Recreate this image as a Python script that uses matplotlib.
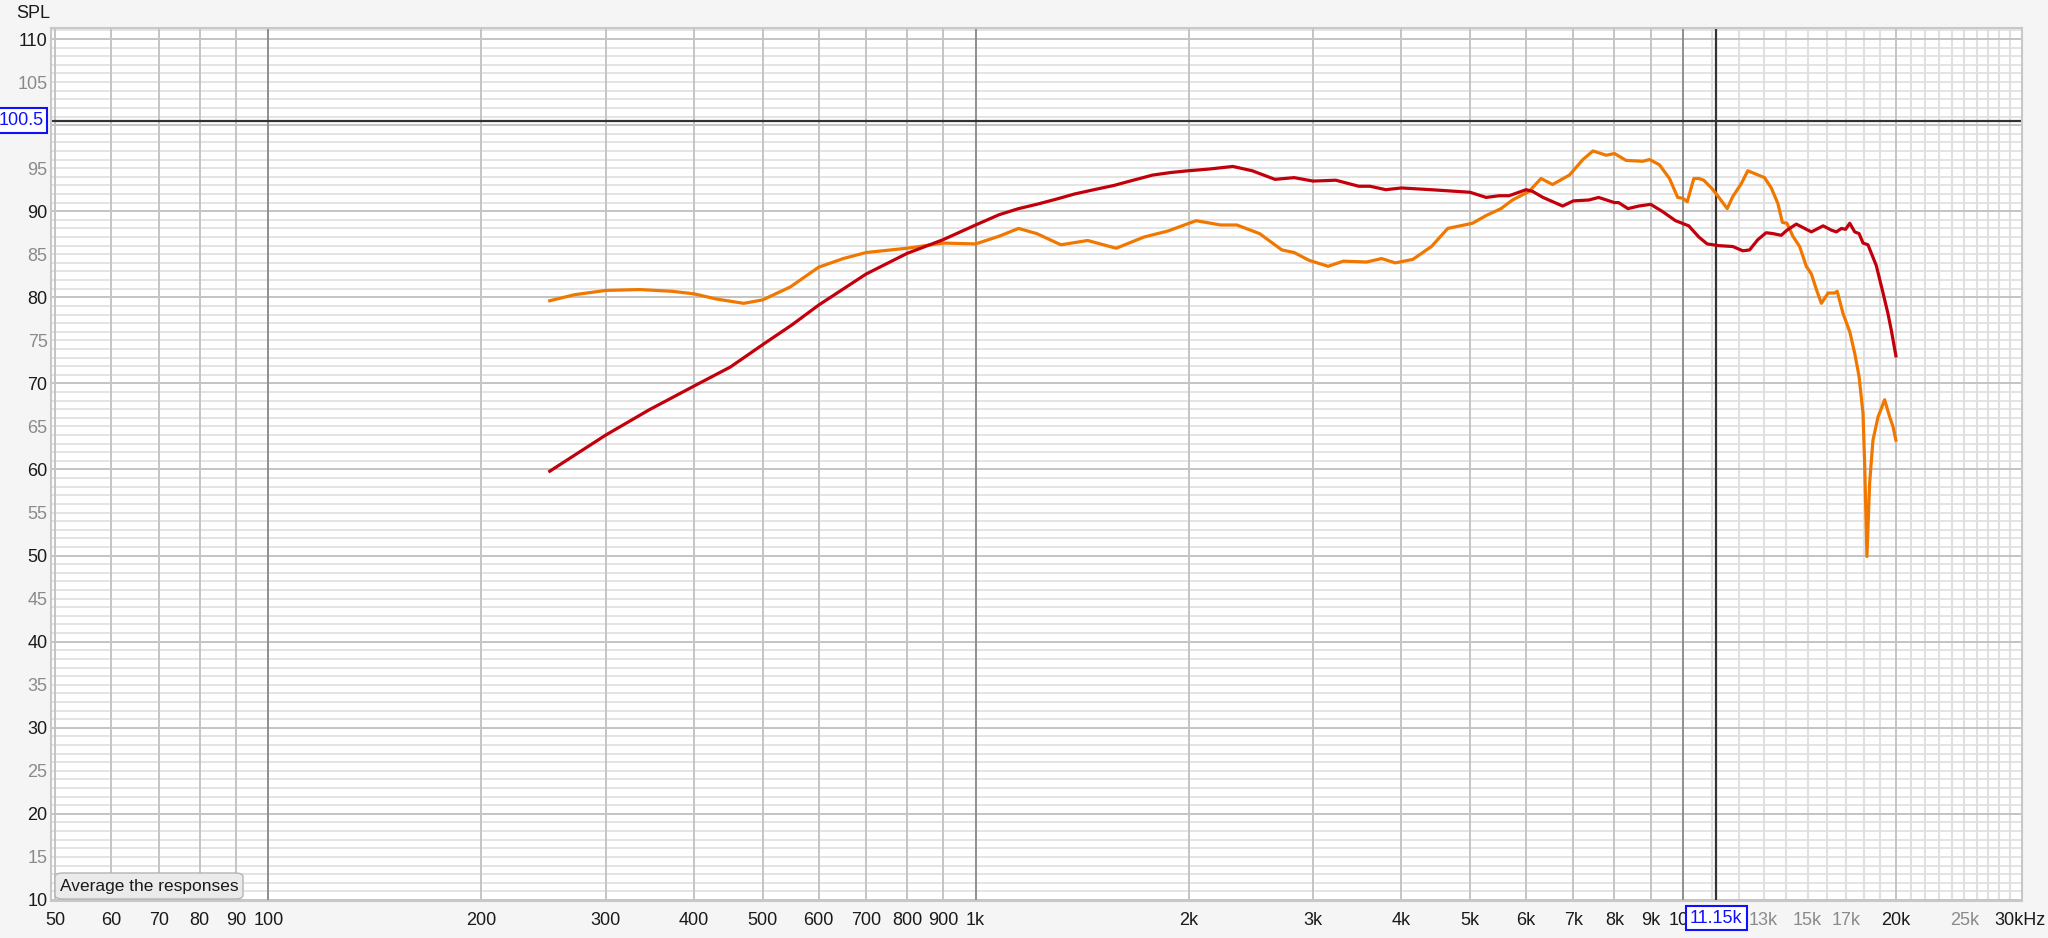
import numpy as np
import matplotlib.pyplot as plt
from matplotlib.patches import FancyBboxPatch

plt.rcParams['font.family'] = ['Liberation Sans', 'DejaVu Sans']

# measured responses (Hz, dB SPL)
red_freq = [250, 300, 345, 400, 450, 500, 550, 600, 700, 800, 900, 1000, 1080, 1150, 1220, 1300,
            1380, 1470, 1570, 1670, 1780, 1890, 2000, 2140, 2310, 2460, 2650, 2820, 3000, 3230, 3480,
            3610, 3800, 4000, 4400, 5000, 5270, 5500, 5680, 6000, 6130, 6340, 6760,
            7000, 7360, 7600, 8000, 8110, 8360, 8660, 9000, 9340, 9760, 10190, 10530,
            10820, 11240, 11760, 12150, 12420, 12760, 13110, 13400, 13770, 14030,
            14460, 15190, 15780, 16210, 16480, 16750, 16980, 17210, 17490, 17740,
            17970, 18260, 18760, 19180, 19490, 19700, 20000]
red_spl = [59.8, 64.0, 66.9, 69.7, 71.9, 74.5, 76.8, 79.1, 82.7, 85.1, 86.7, 88.4, 89.6, 90.3, 90.8, 91.4,
           92.0, 92.5, 93.0, 93.6, 94.2, 94.5, 94.7, 94.9, 95.2, 94.7, 93.7, 93.9, 93.5, 93.6, 92.9,
           92.9, 92.5, 92.7, 92.5, 92.2, 91.6, 91.8, 91.8, 92.5, 92.3, 91.6, 90.6,
           91.2, 91.3, 91.6, 91.0, 91.0, 90.3, 90.6, 90.8, 90.0, 88.9, 88.3, 87.0,
           86.2, 86.0, 85.9, 85.4, 85.5, 86.7, 87.5, 87.4, 87.2, 87.8,
           88.5, 87.6, 88.3, 87.8, 87.6, 88.0, 87.9, 88.6, 87.6, 87.4,
           86.3, 86.1, 83.7, 80.5, 78.1, 76.2, 73.2]

orange_freq = [250, 271, 300, 335, 372, 400, 430, 470, 500, 547, 600, 650, 700, 800, 900,
               1000, 1080, 1150, 1220, 1320, 1440, 1580, 1730, 1870, 2050, 2220, 2340,
               2520, 2710, 2820, 2960, 3150, 3310, 3570, 3750, 3920, 4150, 4410, 4650,
               5040, 5270, 5530, 5740, 6060, 6300, 6540, 6910, 7220, 7460, 7790, 8000,
               8310, 8770, 8970, 9260, 9570, 9830, 10000, 10140, 10360, 10530, 10700,
               11000, 11240, 11550, 11760, 12090, 12350, 12690, 13040, 13330, 13620,
               13820, 14030, 14300, 14620, 14940, 15190, 15440, 15690, 16040, 16390,
               16520, 16840, 17210, 17490, 17740, 17970, 18070, 18200, 18360, 18560,
               18870, 19280, 19600, 19810, 20000]
orange_spl = [79.6, 80.3, 80.8, 80.9, 80.7, 80.4, 79.8, 79.3, 79.7, 81.2, 83.5, 84.5, 85.2, 85.7, 86.3,
              86.2, 87.1, 88.0, 87.4, 86.1, 86.6, 85.7, 87.0, 87.7, 88.9, 88.4, 88.4,
              87.4, 85.5, 85.2, 84.3, 83.6, 84.2, 84.1, 84.5, 84.0, 84.4, 85.9, 88.0,
              88.6, 89.5, 90.3, 91.3, 92.3, 93.8, 93.1, 94.2, 96.0, 97.0, 96.5, 96.7,
              95.9, 95.8, 96.0, 95.4, 93.8, 91.6, 91.5, 91.1, 93.8, 93.8, 93.6,
              92.6, 91.6, 90.3, 91.7, 93.2, 94.7, 94.3, 93.9, 92.7, 90.9,
              88.7, 88.6, 87.1, 85.9, 83.6, 82.7, 80.9, 79.3, 80.5, 80.5,
              80.7, 78.1, 76.0, 73.5, 70.8, 66.5, 60.3, 49.9, 58.4, 63.4,
              66.1, 68.1, 66.1, 65.0, 63.4]

x_tick_freq = [50, 60, 70, 80, 90, 100, 200, 300, 400, 500, 600, 700, 800, 900,
               1000, 2000, 3000, 4000, 5000, 6000, 7000, 8000, 9000, 10000,
               13000, 15000, 17000, 20000, 25000, 30000]
x_tick_text = ['50', '60', '70', '80', '90', '100', '200', '300', '400', '500', '600',
               '700', '800', '900', '1k', '2k', '3k', '4k', '5k', '6k', '7k', '8k',
               '9k', '10k', '13k', '15k', '17k', '20k', '25k', '30kHz']
x_dim_text = ['13k', '15k', '17k', '25k']

y_tick_vals = [10, 15, 20, 25, 30, 35, 40, 45, 50, 55, 60, 65, 70, 75, 80, 85, 90, 95, 105, 110]

cursor_freq = 11150
cursor_spl = 100.5

# grid line sets
x_grid_mid = [50, 60, 70, 80, 90, 200, 300, 400, 500, 600, 700, 800, 900,
              2000, 3000, 4000, 5000, 6000, 7000, 8000, 9000, 20000]
x_grid_dec = [100, 1000, 10000]
x_grid_fine = [f for f in range(11000, 30000, 1000) if f != 20000]


fig = plt.figure(figsize=(20.48, 9.38), dpi=100, facecolor='#f5f5f5')
ax = fig.add_axes([51 / 2048, 37 / 938, 1971 / 2048, 873 / 938])
ax.set_facecolor('white')

ax.set_xscale('log')
ax.set_xlim(49.3, 30150)
ax.set_ylim(9.88, 111.28)

for v in range(10, 112):
    if v % 10 == 0:
        ax.axhline(v, color='#c4c4c4', lw=1.4, zorder=0.5)
    else:
        ax.axhline(v, color='#e4e4e4', lw=1.4, zorder=0.2)
for f in x_grid_fine:
    ax.axvline(f, color='#e0e0e0', lw=1.5, zorder=0.3)
for f in x_grid_mid:
    ax.axvline(f, color='#c4c4c4', lw=1.4, zorder=0.5)
for f in x_grid_dec:
    ax.axvline(f, color='#8e8e8e', lw=1.4, zorder=0.6)

# cursors
ax.axhline(cursor_spl, color='#333333', lw=1.6, zorder=1)
ax.axvline(cursor_freq, color='#333333', lw=1.6, zorder=1)

ax.plot(red_freq, red_spl, color='#c2000c', lw=2.3, zorder=3, solid_joinstyle='round')
ax.plot(orange_freq, orange_spl, color='#f07800', lw=2.3, zorder=2, solid_joinstyle='round')

for s in ax.spines.values():
    s.set_color('#c8c8c8')
    s.set_linewidth(1.5)

ax.set_xticks(x_tick_freq, x_tick_text)
ax.xaxis.set_minor_locator(plt.NullLocator())
ax.set_yticks(y_tick_vals, [str(v) for v in y_tick_vals])
ax.tick_params(axis='both', length=0, labelsize=13)
ax.tick_params(axis='x', pad=8.0)
ax.tick_params(axis='y', pad=2.5)
for lab in ax.get_xticklabels():
    lab.set_color('#8a8a8a' if lab.get_text() in x_dim_text else '#1a1a1a')
for lab, v in zip(ax.get_yticklabels(), y_tick_vals):
    lab.set_color('#1a1a1a' if v % 10 == 0 else '#8a8a8a')

fig.text(33 / 2048, 1 - 14 / 938, 'SPL', ha='center', va='center', fontsize=13, color='#1a1a1a')

# cursor readouts
box = dict(boxstyle='square,pad=0.22', fc='white', ec='#1010ff', lw=1.5)
ax.text(-0.0038, cursor_spl, '100.5', transform=ax.get_yaxis_transform(), ha='right', va='center',
        fontsize=13, color='#1010ff', bbox=box, zorder=10, clip_on=False)
ax.text(cursor_freq, -0.0195, '11.15k', transform=ax.get_xaxis_transform(), ha='center', va='center',
        fontsize=13, color='#1010ff', bbox=box, zorder=10, clip_on=False)

# button
btn = FancyBboxPatch((55 / 2048, 1 - 899 / 938), 188 / 2048, 26 / 938,
                     boxstyle='round,pad=0,rounding_size=0.004', transform=fig.transFigure,
                     fc='#ebebeb', ec='#b4b4b4', lw=1.0, zorder=20)
fig.patches.append(btn)
fig.text(149 / 2048, 1 - 886 / 938, 'Average the responses', ha='center', va='center',
         fontsize=12.5, color='#1a1a1a', zorder=21)

plt.savefig('out.png', dpi=100, facecolor=fig.get_facecolor())
